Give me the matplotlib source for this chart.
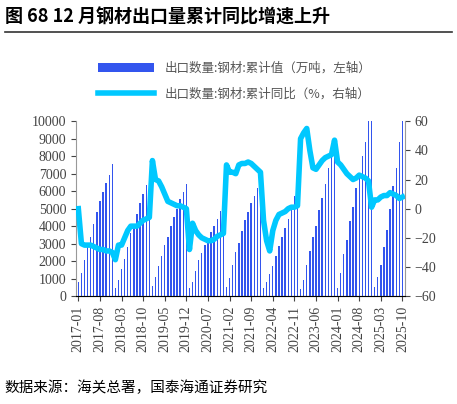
import matplotlib
matplotlib.use("Agg")
import matplotlib.pyplot as plt
import numpy as np
import pandas as pd

plt.rcParams['font.family'] = ['Noto Sans CJK SC', 'DejaVu Sans']

months = pd.period_range('2017-01', '2025-10', freq='M').strftime('%Y-%m').tolist()
vol = [800,1300,2050,2800,3400,4100,4800,5450,5950,6450,6950,7541,
       450,950,1550,2150,2800,3600,4100,4700,5300,5850,6350,6934,
       600,1100,1700,2300,2900,3400,4000,4550,5000,5550,5950,6429,
       450,800,1450,2050,2450,2900,3300,3650,4000,4400,4850,5367,
       550,1050,1800,2550,3050,3750,4350,4800,5300,5700,6200,6690,
       450,800,1250,1700,2300,2860,3400,3900,4400,4900,5700,6732,
       400,900,1800,2600,3400,4000,4900,5600,6400,7300,8000,9026,
       450,1300,2400,3200,4300,5100,6200,7000,8000,8800,10000,11072,
       500,1100,1800,2800,3800,5000,6300,7300,8800,10200]
yoy = [0,-24,-25,-25,-25,-26,-27,-28,-28,-29,-29,-30,
       -35,-25,-25,-20,-15,-12,-12,-12,-10,-8,-7,-6,
       33,20,19,15,10,5,4,3,2,2,1,0,
       -28,-10,-15,-18,-20,-21,-22,-22,-21,-19,-18,-17,
       30,25,25,24,30,31,31,32,31,29,27,25,
       -8,-22,-29,-15,-8,-4,-3,-2,0,1,1,2,
       48,52,55,40,28,27,30,33,35,36,37,47,
       32,30,27,24,22,20,21,23,22,21,19,1,
       6,6,8,9,9,11,10,9,7,8]
tick_labels = months[::7]

fig = plt.figure(figsize=(4.57, 4.04), dpi=100)
ax = fig.add_axes([0.166, 0.267, 0.72, 0.433])
x = np.arange(len(months))
b = ax.bar(x, vol, width=0.45, color='#3355EE', label='出口数量:钢材:累计值（万吨，左轴）')
ax.set_ylim(0, 10000)
ax.set_yticks(range(0, 10001, 1000))
ax.set_xlim(-0.8, len(months) - 0.2)
ax.set_xticks(x[::7])
ax.set_xticklabels(tick_labels, rotation=90, fontsize=9, family='Liberation Serif', color='#444444')
ax2 = ax.twinx()
l, = ax2.plot(x, yoy, color='#00C8FF', lw=4, label='出口数量:钢材:累计同比（%，右轴）')
ax2.set_ylim(-60, 60)
ax2.set_yticks(range(-60, 61, 20))
for a in (ax, ax2):
    a.spines['top'].set_visible(False)
    a.spines['left'].set_visible(False)
    a.spines['right'].set_visible(False)
    a.tick_params(labelsize=10, colors='#444444')
ax.spines['bottom'].set_color('#999999')
ax.spines['left'].set_visible(True); ax.spines['left'].set_color('#999999')
ax2.spines['right'].set_visible(True); ax2.spines['right'].set_color('#999999')
for lab in ax.get_yticklabels() + ax2.get_yticklabels():
    lab.set_family('Liberation Serif')
fig.legend(handles=[b, l], loc='upper left', bbox_to_anchor=(0.19, 0.875), frameon=False,
           fontsize=9, handlelength=4.5, labelspacing=1.0, labelcolor='#555555')
fig.text(0.01, 0.945, '图 68 12 月钢材出口量累计同比增速上升', fontsize=13, weight='bold')
fig.add_artist(plt.Line2D([0.01, 0.99], [0.922, 0.922], color='#333333', lw=1.2))
fig.text(0.01, 0.03, '数据来源：海关总署，国泰海通证券研究', fontsize=10.5)
fig.savefig('out.png')
